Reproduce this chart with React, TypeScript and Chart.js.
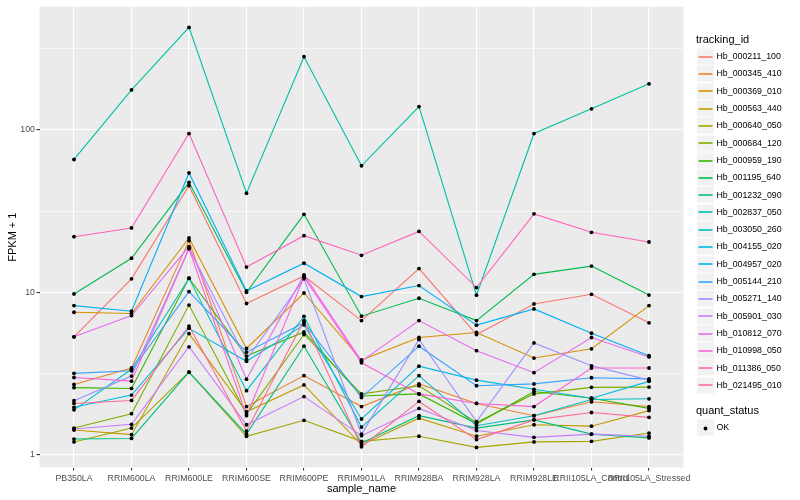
import { useEffect, useRef } from "react";
import { Chart, registerables } from "chart.js";

Chart.register(...registerables);

const categories = [
  "PB350LA", "RRIM600LA", "RRIM600LE", "RRIM600SE", "RRIM600PE", "RRIM901LA",
  "RRIM928BA", "RRIM928LA", "RRIM928LE", "RRII105LA_Control", "RRII105LA_Stressed",
];

const trackingIds = [
  "Hb_000211_100", "Hb_000345_410", "Hb_000369_010", "Hb_000563_440", "Hb_000640_050",
  "Hb_000684_120", "Hb_000959_190", "Hb_001195_640", "Hb_001232_090", "Hb_002837_050",
  "Hb_003050_260", "Hb_004155_020", "Hb_004957_020", "Hb_005144_210", "Hb_005271_140",
  "Hb_005901_030", "Hb_010812_070", "Hb_010998_050", "Hb_011386_050", "Hb_021495_010",
];

const seriesColors = [
  "#F8766D", "#EA8331", "#D89000", "#C09B00", "#A3A500",
  "#7CAE00", "#39B600", "#00BB4E", "#00BF7D", "#00C1A3",
  "#00BFC4", "#00BAE0", "#00B0F6", "#35A2FF", "#9590FF",
  "#C77CFF", "#E76BF3", "#FA62DB", "#FF62BC", "#FF6C91",
];

const s000211_100 = [5.32, 12.1, 45.3, 8.53, 12.6, 6.7, 14.0, 5.5, 8.48, 9.72, 6.49];
const s000345_410 = [2.71, 3.42, 20.8, 1.98, 3.07, 1.98, 2.73, 2.07, 1.74, 2.12, 1.98];
const s000369_010 = [7.54, 7.4, 21.6, 4.51, 9.9, 3.83, 5.27, 5.66, 3.94, 4.49, 8.28];
const s000563_440 = [1.42, 1.33, 5.57, 1.84, 2.69, 1.15, 1.68, 1.3, 1.53, 1.5, 1.87];
const s000640_050 = [1.2, 1.46, 3.23, 1.3, 1.63, 1.21, 1.3, 1.11, 1.2, 1.21, 1.36];
const s000684_120 = [1.46, 1.79, 8.34, 1.78, 5.5, 2.37, 2.66, 1.58, 2.37, 2.6, 2.61];
const s000959_190 = [2.59, 2.56, 12.2, 4.05, 5.7, 2.3, 2.37, 1.55, 2.45, 2.23, 1.93];
const s001195_640 = [9.77, 16.2, 47.5, 10.0, 30.2, 7.13, 9.19, 6.7, 12.9, 14.5, 9.62];
const s001232_090 = [1.25, 1.26, 3.23, 1.34, 4.66, 1.18, 1.74, 1.46, 1.64, 1.34, 1.27];
const s002837_050 = [65.7, 176, 427, 40.7, 282, 60.1, 139, 9.6, 94.9, 134.6, 192];
const s003050_260 = [1.89, 3.36, 12.2, 2.48, 7.1, 1.48, 3.07, 1.51, 1.74, 2.19, 2.21];
const s004155_020 = [1.96, 2.33, 6.0, 3.76, 6.3, 1.66, 3.51, 2.88, 2.53, 2.23, 2.83];
const s004957_020 = [8.28, 7.65, 54.3, 10.2, 15.1, 9.41, 11.0, 6.28, 7.9, 5.6, 4.07];
const s005144_210 = [3.17, 3.29, 10.1, 4.28, 6.5, 2.25, 4.66, 2.66, 2.73, 2.98, 2.93];
const s005271_140 = [2.15, 3.05, 18.6, 3.86, 12.1, 1.34, 5.12, 1.6, 4.88, 3.53, 2.88];
const s005901_030 = [1.44, 1.54, 4.62, 1.53, 2.28, 1.31, 1.93, 1.41, 1.28, 1.34, 1.3];
const s010812_070 = [5.32, 7.2, 19.1, 2.92, 12.8, 3.77, 6.7, 4.37, 3.2, 5.27, 4.0];
const s010998_050 = [2.99, 2.84, 18.6, 1.74, 12.4, 3.68, 2.37, 2.07, 1.98, 3.42, 3.42];
const s011386_050 = [22.0, 24.9, 94.9, 14.3, 22.3, 16.9, 23.7, 10.7, 30.4, 23.4, 20.4];
const s021495_010 = [2.07, 2.16, 6.2, 1.4, 6.7, 1.12, 2.13, 1.24, 1.64, 1.82, 1.7];

const seriesValues = [
  s000211_100, s000345_410, s000369_010, s000563_440, s000640_050,
  s000684_120, s000959_190, s001195_640, s001232_090, s002837_050,
  s003050_260, s004155_020, s004957_020, s005144_210, s005271_140,
  s005901_030, s010812_070, s010998_050, s011386_050, s021495_010,
];

const yMajorTicks = [1, 10, 100];
const yMinorTicks = [3.1623, 31.623, 316.23];
const yMin = 0.835;
const yMax = 572;

const FONT = '"Liberation Sans", Arial, Helvetica, sans-serif';

const panelBackground = {
  id: "panelBackground",
  beforeDraw(chart: any) {
    const { ctx, chartArea: a } = chart;
    ctx.save();
    ctx.fillStyle = "#EBEBEB";
    ctx.fillRect(a.left, a.top, a.right - a.left, a.bottom - a.top);
    ctx.restore();
  },
};

const ggLegend = {
  id: "ggLegend",
  afterDraw(chart: any) {
    const ctx = chart.ctx;
    ctx.save();
    const kx = 697;
    const ks = 17.3;
    ctx.textAlign = "left";
    ctx.textBaseline = "middle";
    ctx.fillStyle = "#000000";
    ctx.font = `11px ${FONT}`;
    ctx.fillText("tracking_id", 696, 40);
    trackingIds.forEach((id, i) => {
      const cy = 56.7 + i * ks;
      const ly = Math.round(cy);
      ctx.fillStyle = "#F2F2F2";
      ctx.fillRect(kx, Math.round(cy - ks / 2) + 0.5, 17, 16);
      ctx.strokeStyle = seriesColors[i];
      ctx.lineWidth = 1.6;
      ctx.beginPath();
      ctx.moveTo(kx + 1.5, ly);
      ctx.lineTo(kx + 15.5, ly);
      ctx.stroke();
      ctx.fillStyle = "#000000";
      ctx.font = `8.8px ${FONT}`;
      ctx.fillText(id, 716.5, cy);
    });
    ctx.font = `11px ${FONT}`;
    ctx.fillText("quant_status", 696, 411);
    const oy = 428;
    ctx.fillStyle = "#F2F2F2";
    ctx.fillRect(kx, Math.round(oy - ks / 2) + 0.5, 17, 16);
    ctx.fillStyle = "#000000";
    ctx.beginPath();
    ctx.arc(kx + 8.5, oy + 0.5, 1.9, 0, Math.PI * 2);
    ctx.fill();
    ctx.font = `8.8px ${FONT}`;
    ctx.fillText("OK", 716.5, oy);
    ctx.restore();
  },
};

export default function App() {
  const canvasRef = useRef<HTMLCanvasElement | null>(null);

  useEffect(() => {
    if (!canvasRef.current) return;
    const lineSets = seriesValues.map((vals, i) => ({
      type: "line" as const,
      label: trackingIds[i],
      data: vals.map((v, j) => ({ x: j, y: v })),
      borderColor: seriesColors[i],
      backgroundColor: seriesColors[i],
      borderWidth: 1.1,
      pointRadius: 0,
      tension: 0,
      order: seriesValues.length - i + 1,
    }));
    const pointSet = {
      type: "scatter" as const,
      label: "OK",
      data: seriesValues.flatMap((vals) => vals.map((v, j) => ({ x: j, y: v }))),
      pointStyle: "circle",
      pointRadius: 1.9,
      pointBorderWidth: 0,
      borderWidth: 0,
      backgroundColor: "#000000",
      borderColor: "#000000",
      showLine: false,
      order: 0,
    };

    const chart = new Chart(canvasRef.current, {
      type: "line",
      data: { datasets: [...lineSets, pointSet] as any },
      plugins: [panelBackground, ggLegend],
      options: {
        animation: false,
        responsive: false,
        devicePixelRatio: 1,
        layout: { padding: { left: 0, top: 5, right: 116.5, bottom: 0 } },
        plugins: { legend: { display: false }, tooltip: { enabled: false }, title: { display: false } },
        scales: {
          x: {
            type: "linear",
            min: -0.6,
            max: 10.6,
            afterBuildTicks: (s: any) => {
              s.ticks = categories.map((_, i) => ({ value: i }));
            },
            afterFit: (s: any) => {
              s.height = 32.5;
            },
            ticks: {
              autoSkip: false,
              maxRotation: 0,
              minRotation: 0,
              padding: 3,
              color: "#4D4D4D",
              font: { family: FONT, size: 8.8 },
              callback: (v: any) => categories[Math.round(Number(v))] ?? "",
            },
            grid: {
              color: "#FFFFFF",
              lineWidth: 1.1,
              drawTicks: true,
              tickLength: 3,
              tickColor: "#333333",
              tickWidth: 1.1,
            },
            border: { display: false },
            title: {
              display: true,
              text: "sample_name",
              color: "#000000",
              font: { family: FONT, size: 11 },
              padding: { top: 0, bottom: 4 },
            },
          },
          y: {
            type: "logarithmic",
            min: yMin,
            max: yMax,
            afterBuildTicks: (s: any) => {
              s.ticks = [...yMajorTicks, ...yMinorTicks]
                .sort((a, b) => a - b)
                .map((v) => ({ value: v }));
            },
            afterFit: (s: any) => {
              s.width = 39.5;
            },
            ticks: {
              autoSkip: false,
              padding: 1.5,
              color: "#4D4D4D",
              font: { family: FONT, size: 8.8 },
              callback: (v: any) => (yMajorTicks.includes(Number(v)) ? String(v) : ""),
            },
            grid: {
              color: "#FFFFFF",
              lineWidth: (c: any) => (c.tick && yMajorTicks.includes(c.tick.value) ? 1.1 : 0.55),
              drawTicks: true,
              tickLength: 3,
              tickWidth: 1.1,
              tickColor: (c: any) =>
                c.tick && yMajorTicks.includes(c.tick.value) ? "#333333" : "rgba(0,0,0,0)",
            },
            border: { display: false },
            title: {
              display: true,
              text: "FPKM + 1",
              color: "#000000",
              font: { family: FONT, size: 11 },
              padding: { top: 6, bottom: 0 },
            },
          },
        },
      } as any,
    });
    return () => chart.destroy();
  }, []);

  return (
    <div style={{ position: "fixed", left: 0, top: 0, width: 800, height: 500, background: "#FFFFFF" }}>
      <canvas ref={canvasRef} width={800} height={500} style={{ display: "block", width: 800, height: 500 }} />
    </div>
  );
}
